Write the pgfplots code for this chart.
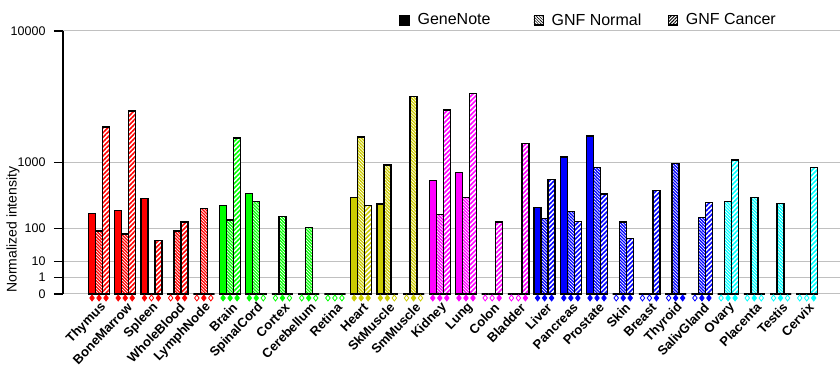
\documentclass[border=0pt]{standalone}
\usepackage{fontspec}
\setmainfont{Liberation Sans}
\usepackage{pgfplots}
\pgfplotsset{compat=1.18}
\usepackage{pgfplotstable}
\usetikzlibrary{patterns.meta}

\definecolor{cR}{RGB}{255,0,0}
\definecolor{cG}{RGB}{0,255,0}
\definecolor{cY}{RGB}{204,204,0}
\definecolor{cM}{RGB}{255,0,255}
\definecolor{cB}{RGB}{0,0,255}
\definecolor{cC}{RGB}{0,255,255}
\definecolor{gridgray}{RGB}{192,192,192}

% x: tissue index; gn / nrm / cnc: GeneNote, GNF Normal, GNF Cancer
% dg / dn / dc: diamond filled (1) or open (0)
\pgfplotstableread{
x gn nrm cnc dg dn dc
0 198 87 2210 1 1 1
1 220 73 2990 1 1 1
2 344 0 51 1 0 1
3 0 86 134 0 1 1
4 0 238 0 0 1 0
}\redtab
\pgfplotstableread{
x gn nrm cnc dg dn dc
5 267 147 1760 1 1 1
6 408 310 0 1 1 0
7 0 172 0 0 1 0
8 0 105 0 0 1 0
9 0 0 0 0 0 0
}\greentab
\pgfplotstableread{
x gn nrm cnc dg dn dc
10 357 1797 267 1 1 1
11 282 935 0 1 1 0
12 0 3860 0 0 1 0
}\olivetab
\pgfplotstableread{
x gn nrm cnc dg dn dc
13 612 187 3046 1 1 1
14 767 357 4060 1 1 1
15 0 0 134 0 0 1
16 0 0 1564 0 0 1
}\magentatab
\pgfplotstableread{
x gn nrm cnc dg dn dc
17 251 159 634 1 1 1
18 1141 212 138 1 1 1
19 1836 877 400 1 1 1
20 0 134 56.5 0 1 1
21 0 0 450 0 0 1
22 0 974 0 0 1 1
23 0 165 303 0 1 1
}\bluetab
\pgfplotstableread{
x gn nrm cnc dg dn dc
24 0 310 1068 0 1 1
25 0 357 0 0 1 0
26 0 292 0 0 1 0
27 0 0 877 0 0 1
}\cyantab

\newcommand\tgroup[2]{%
  \addplot[forget plot, ybar, bar width=7pt, bar shift=-7pt, draw=black, line width=1.4pt, fill=#2]
    table[x=x, y=gn]{#1};
  \addplot[forget plot, ybar, bar width=7pt, bar shift=0pt, draw=black, line width=1.4pt,
    preaction={fill=#2}, pattern={Lines[angle=-45,distance=2.2pt,line width=0.7pt]}, pattern color=white]
    table[x=x, y=nrm]{#1};
  \addplot[forget plot, ybar, bar width=7pt, bar shift=7pt, draw=black, line width=1.4pt,
    preaction={fill=white}, pattern={Lines[angle=45,distance=3.3pt,line width=1.6pt]}, pattern color=#2]
    table[x=x, y=cnc]{#1};
  \addplot[forget plot, scatter, only marks, color=#2, line width=0.8pt, point meta=explicit symbolic,
    scatter/classes={0={mark=diamond*, fill=white}, 1={mark=diamond*}}, mark size=3pt, mark options={yshift=-4pt}]
    table[x expr=\thisrow{x}-0.267, y expr=0, meta=dg]{#1};
  \addplot[forget plot, scatter, only marks, color=#2, line width=0.8pt, point meta=explicit symbolic,
    scatter/classes={0={mark=diamond*, fill=white}, 1={mark=diamond*}}, mark size=3pt, mark options={yshift=-4pt}]
    table[x expr=\thisrow{x}, y expr=0, meta=dn]{#1};
  \addplot[forget plot, scatter, only marks, color=#2, line width=0.8pt, point meta=explicit symbolic,
    scatter/classes={0={mark=diamond*, fill=white}, 1={mark=diamond*}}, mark size=3pt, mark options={yshift=-4pt}]
    table[x expr=\thisrow{x}+0.267, y expr=0, meta=dc]{#1};
}

\begin{document}
\begin{tikzpicture}
\path[use as bounding box] (-63pt,-91pt) rectangle (777pt,294pt);
\begin{axis}[
  at={(0,0)}, anchor=south west,
  scale only axis, width=777pt, height=263pt,
  xmin=-1.374, xmax=28.27,
  ymin=0, ymax=10000,
  enlargelimits=false,
  clip=false,
  y coord trafo/.code={\begingroup\pgfkeys{/pgf/fpu=true,/pgf/fpu/output format=fixed}\pgfmathparse{(#1>0.0001) ? exp(0.30103*ln(max(#1,0.0001))) : 0}\pgfmathsmuggle\pgfmathresult\endgroup},
  ytick={0,1,10,100,1000,10000},
  yticklabels={0,1,10,100,1000,10000},
  ymajorgrids,
  grid style={gridgray, line width=1pt},
  axis y line*=left,
  axis x line*=bottom,
  x axis line style={draw=none},
  y axis line style={black, line width=1.2pt, -},
  xtick={0,...,27},
  xticklabels={Thymus,BoneMarrow,Spleen,WholeBlood,LymphNode,Brain,SpinalCord,Cortex,Cerebellum,Retina,Heart,SkMuscle,SmMuscle,Kidney,Lung,Colon,Bladder,Liver,Pancreas,Prostate,Skin,Breast,Thyroid,SalivGland,Ovary,Placenta,Testis,Cervix},
  xtick style={draw=none},
  ytick style={black, line width=1.2pt},
  tick align=outside,
  major tick length=9pt,
  yticklabel style={font=\fontsize{12.5}{15}\selectfont, xshift=-5pt},
  xticklabel style={font=\bfseries\fontsize{13}{15}\selectfont, rotate=46, anchor=east, xshift=5pt, yshift=-5pt},
  ylabel={Normalized intensity},
  ylabel style={font=\fontsize{14}{16}\selectfont, at={(axis description cs:-0.0644,0.245)}, anchor=center},
  legend style={at={(axis description cs:0.4324,1.0418)}, anchor=west, draw=none, fill=none,
    legend columns=3, font=\fontsize{16}{19}\selectfont, inner sep=0pt, column sep=0pt,
    nodes={inner sep=0pt}, /tikz/every odd column/.append style={column sep=8pt}},
  legend cell align=left,
]
\addlegendimage{legend image code/.code={\fill[black] (0pt,-5pt) rectangle (10pt,5pt);}}
\addlegendentry{\makebox[116pt][l]{GeneNote}}
\addlegendimage{legend image code/.code={\draw[black, line width=0.6pt, preaction={fill=white}, pattern={Lines[angle=-45,distance=2pt,line width=0.6pt]}, pattern color=black] (0pt,-4.7pt) rectangle (9.4pt,4.7pt);}}
\addlegendentry{\makebox[116pt][l]{GNF Normal}}
\addlegendimage{legend image code/.code={\draw[black, line width=0.6pt, preaction={fill=white}, pattern={Lines[angle=45,distance=2.4pt,line width=1pt]}, pattern color=black] (0pt,-4.7pt) rectangle (9.4pt,4.7pt);}}
\addlegendentry{GNF Cancer}

\tgroup{\redtab}{cR}
\tgroup{\greentab}{cG}
\tgroup{\olivetab}{cY}
\tgroup{\magentatab}{cM}
\tgroup{\bluetab}{cB}
\tgroup{\cyantab}{cC}
\end{axis}
\end{tikzpicture}
\end{document}
